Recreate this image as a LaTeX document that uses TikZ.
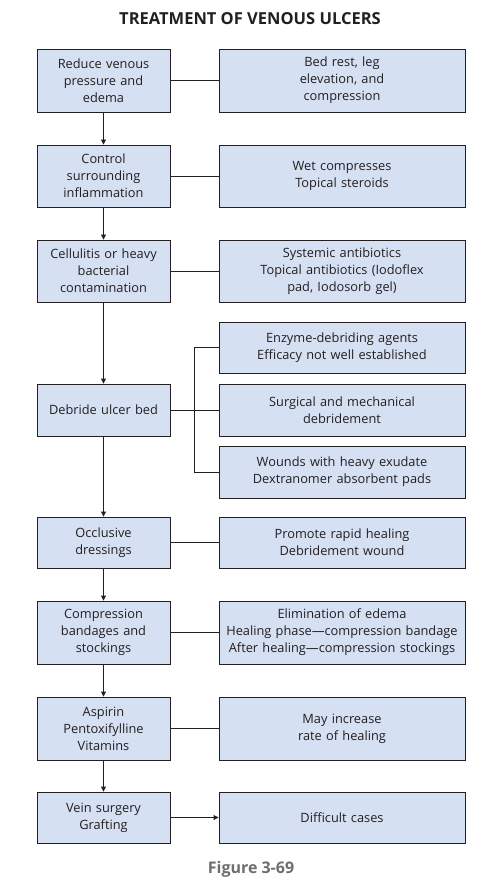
\documentclass[tikz,border=0pt]{standalone}
\usepackage{fontspec}
\setmainfont{Open Sans}
\usetikzlibrary{arrows.meta}
\definecolor{boxfill}{HTML}{D6E0F3}
\definecolor{txt}{HTML}{231F20}
\definecolor{capgray}{HTML}{6D6E71}
\tikzset{
  box/.style={draw=txt, line width=0.9pt, fill=boxfill, text=txt, align=center, inner sep=0pt,
    font=\fontsize{12.8}{17}\selectfont},
  lbox/.style={box, minimum width=133pt, text width=130pt},
  rbox/.style={box, minimum width=246pt, text width=242pt},
  conn/.style={draw=txt, line width=0.9pt},
  arr/.style={conn, -{Triangle[length=5pt,width=5pt]}},
}
\begin{document}
\begin{tikzpicture}[x=1pt,y=-1pt]
\useasboundingbox (0,0) rectangle (487,885);
\node[font=\fontsize{16.5}{18}\selectfont\bfseries, text=txt] (title) at (250,19) {TREATMENT OF VENOUS ULCERS};

\node[lbox, minimum height=63pt] (l1) at (103.5,80.5) {Reduce venous\\pressure and\\edema};
\node[rbox, minimum height=63pt] (r1) at (342,80.5) {Bed rest, leg\\elevation, and\\compression};

\node[lbox, minimum height=62pt] (l2) at (103.5,176) {Control\\surrounding\\inflammation};
\node[rbox, minimum height=62pt] (r2) at (342,176) {Wet compresses\\Topical steroids};

\node[lbox, minimum height=62pt] (l3) at (103.5,271) {Cellulitis or heavy\\bacterial\\contamination};
\node[rbox, minimum height=62pt] (r3) at (342,271) {Systemic antibiotics\\Topical antibiotics (Iodoflex\\pad, Iodosorb gel)};

\node[lbox, minimum height=52pt] (l4) at (103.5,410) {Debride ulcer bed};
\node[rbox, minimum height=51pt] (r4a) at (342,347.5) {Enzyme-debriding agents\\Efficacy not well established};
\node[rbox, minimum height=52pt] (r4b) at (342,410) {Surgical and mechanical\\debridement};
\node[rbox, minimum height=52pt] (r4c) at (342,472) {Wounds with heavy exudate\\Dextranomer absorbent pads};
\coordinate (br) at (194,410);

\node[lbox, minimum height=51pt] (l5) at (103.5,542.5) {Occlusive\\dressings};
\node[rbox, minimum height=51pt] (r5) at (342,542.5) {Promote rapid healing\\Debridement wound};

\node[lbox, minimum height=63pt] (l6) at (103.5,632.5) {Compression\\bandages and\\stockings};
\node[rbox, minimum height=63pt] (r6) at (342,632.5) {Elimination of edema\\Healing phase—compression bandage\\After healing—compression stockings};

\node[lbox, minimum height=63pt] (l7) at (103.5,728.5) {Aspirin\\Pentoxifylline\\Vitamins};
\node[rbox, minimum height=63pt] (r7) at (342,728.5) {May increase\\rate of healing};

\node[lbox, minimum height=51pt] (l8) at (103.5,817.5) {Vein surgery\\Grafting};
\node[rbox, minimum height=51pt] (r8) at (342,817.5) {Difficult cases};

\node[font=\fontsize{16}{18}\selectfont\bfseries, text=capgray] (cap) at (251,869) {Figure 3-69};

% vertical arrows
\draw[arr] (l1) -- (l2);
\draw[arr] (l2) -- (l3);
\draw[arr] (l3) -- (l4);
\draw[arr] (l4) -- (l5);
\draw[arr] (l5) -- (l6);
\draw[arr] (l6) -- (l7);
\draw[arr] (l7) -- (l8);

% side connectors
\draw[conn] (l1) -- (r1);
\draw[conn] (l2) -- (r2);
\draw[conn] (l3) -- (r3);
\draw[conn] (l4) -- (r4b);
\draw[conn] (r4a.west) -- (r4a.west -| br) -- (r4c.west -| br) -- (r4c.west);
\draw[conn] (l5) -- (r5);
\draw[conn] (l6) -- (r6);
\draw[conn] (l7) -- (r7);
\draw[arr] (l8) -- (r8);
\end{tikzpicture}
\end{document}
